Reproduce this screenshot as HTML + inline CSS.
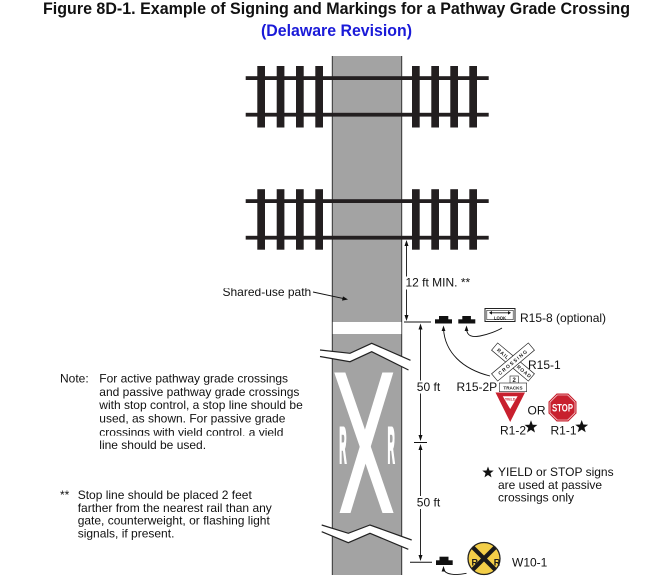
<!DOCTYPE html>
<html><head><meta charset="utf-8"><style>
html,body{margin:0;padding:0;background:#fff;}
svg{display:block;}
text{font-family:"Liberation Sans",Arial,sans-serif;}
</style></head><body>
<svg width="672" height="581" viewBox="0 0 672 581" xmlns="http://www.w3.org/2000/svg">
<defs>
<clipPath id="xclip"><rect x="332.5" y="372.5" width="69" height="140.5"/></clipPath>
<clipPath id="wclip"><circle cx="484" cy="558.5" r="16"/></clipPath>
<clipPath id="shclip"><rect x="200" y="288.3" width="130" height="20"/></clipPath>
<clipPath id="ncclip"><rect x="90" y="420" width="230" height="15.8"/></clipPath>
</defs>
<rect width="672" height="581" fill="#fff"/>

<!-- Title -->
<text x="43" y="14" font-size="17" font-weight="bold" fill="#111" textLength="587" lengthAdjust="spacingAndGlyphs">Figure 8D-1.  Example of Signing and Markings for a Pathway Grade Crossing</text>
<text x="261" y="36" font-size="16.5" font-weight="bold" fill="#1a1ad8" textLength="151" lengthAdjust="spacingAndGlyphs">(Delaware Revision)</text>

<!-- Path -->
<rect x="332" y="56" width="70" height="519" fill="#a3a3a3"/>
<line x1="332.3" y1="56" x2="332.3" y2="575" stroke="#333" stroke-width="1"/>
<line x1="401.7" y1="56" x2="401.7" y2="575" stroke="#333" stroke-width="1"/>

<!-- Tracks -->
<g fill="#231f20">
<rect x="245.7" y="76.2" width="243" height="3.8"/>
<rect x="245.7" y="112.8" width="243" height="3.8"/>
<rect x="245.7" y="199.2" width="243" height="3.8"/>
<rect x="245.7" y="235.8" width="243" height="3.8"/>
<g>
<rect x="257.3" y="66" width="7.7" height="61.5"/>
<rect x="276.7" y="66" width="7.7" height="61.5"/>
<rect x="296" y="66" width="7.7" height="61.5"/>
<rect x="315.3" y="66" width="7.7" height="61.5"/>
<rect x="412" y="66" width="7.7" height="61.5"/>
<rect x="431.3" y="66" width="7.7" height="61.5"/>
<rect x="450.3" y="66" width="7.7" height="61.5"/>
<rect x="469.3" y="66" width="7.7" height="61.5"/>
</g>
<g>
<rect x="257.3" y="189.2" width="7.7" height="60.5"/>
<rect x="276.7" y="189.2" width="7.7" height="60.5"/>
<rect x="296" y="189.2" width="7.7" height="60.5"/>
<rect x="315.3" y="189.2" width="7.7" height="60.5"/>
<rect x="412" y="189.2" width="7.7" height="60.5"/>
<rect x="431.3" y="189.2" width="7.7" height="60.5"/>
<rect x="450.3" y="189.2" width="7.7" height="60.5"/>
<rect x="469.3" y="189.2" width="7.7" height="60.5"/>
</g>
</g>

<!-- Stop line -->
<rect x="332.8" y="322" width="68.5" height="12" fill="#fff"/>

<!-- X marking -->
<g clip-path="url(#xclip)" stroke="#fff" stroke-width="10.5">
<line x1="337.9" y1="367" x2="390.1" y2="519"/>
<line x1="389.8" y1="366" x2="343.2" y2="519"/>
</g>
<text transform="translate(339.3,463) scale(1,5)" font-size="10.2" font-weight="bold" fill="#fff" stroke="#fff" stroke-width="0.5">R</text>
<text transform="translate(387.5,463) scale(1,5)" font-size="10.2" font-weight="bold" fill="#fff" stroke="#fff" stroke-width="0.5">R</text>

<!-- Break bands -->
<polygon points="320,350 350,353.3 371.7,343.3 410.5,360.3 408.5,370 371.7,351.7 350,361.7 320,356.5" fill="#fff"/>
<polyline points="320,350 350,353.3 371.7,343.3 410.5,360.3" fill="none" stroke="#222" stroke-width="1.2"/>
<polyline points="320,356.5 350,361.7 371.7,351.7 408.5,370" fill="none" stroke="#222" stroke-width="1.2"/>
<polygon points="321.7,525 348.3,533.3 370,525 411.7,540 408.3,549.3 370,533.3 348.3,542.7 321.7,531.7" fill="#fff"/>
<polyline points="321.7,525 348.3,533.3 370,525 411.7,540" fill="none" stroke="#222" stroke-width="1.2"/>
<polyline points="321.7,531.7 348.3,542.7 370,533.3 408.3,549.3" fill="none" stroke="#222" stroke-width="1.2"/>

<!-- Shared-use path label -->
<text x="222.5" y="296" font-size="12" fill="#111" clip-path="url(#shclip)">Shared-use path</text>
<line x1="313" y1="292" x2="343" y2="298.4" stroke="#111" stroke-width="0.9"/>
<polygon points="348,299.5 342,300.6 343,296.4" fill="#111"/>

<!-- 12 ft dimension -->
<line x1="406.5" y1="242" x2="406.5" y2="319" stroke="#111" stroke-width="0.9"/>
<polygon points="406.5,240 404.5,246 408.5,246" fill="#111"/>
<polygon points="406.5,321 404.5,315 408.5,315" fill="#111"/>
<line x1="404" y1="322" x2="431" y2="322" stroke="#111" stroke-width="1"/>
<rect x="404.5" y="276.5" width="66" height="13" fill="#fff"/>
<text x="405.5" y="286.5" font-size="12" fill="#111">12 ft MIN. **</text>

<!-- 50 ft dimensions -->
<line x1="420.5" y1="325" x2="420.5" y2="439" stroke="#111" stroke-width="0.9"/>
<polygon points="420.5,323.5 418.5,329.5 422.5,329.5" fill="#111"/>
<polygon points="420.5,441 418.5,435 422.5,435" fill="#111"/>
<line x1="414" y1="442.5" x2="427" y2="442.5" stroke="#111" stroke-width="1"/>
<line x1="420.5" y1="446" x2="420.5" y2="559" stroke="#111" stroke-width="0.9"/>
<polygon points="420.5,444 418.5,450 422.5,450" fill="#111"/>
<polygon points="420.5,561 418.5,555 422.5,555" fill="#111"/>
<line x1="410" y1="562.3" x2="432" y2="562.3" stroke="#111" stroke-width="1"/>
<rect x="416" y="380.5" width="25" height="13" fill="#fff"/>
<text x="416.8" y="391" font-size="12" fill="#111">50 ft</text>
<rect x="416" y="496" width="25" height="13" fill="#fff"/>
<text x="416.8" y="506.5" font-size="12" fill="#111">50 ft</text>

<!-- Sign posts -->
<g fill="#111">
<rect x="435" y="319.3" width="17" height="4.2"/><rect x="439" y="316" width="9.3" height="4"/>
<rect x="458.3" y="319.3" width="17" height="4.2"/><rect x="462.3" y="316" width="8.6" height="4"/>
<rect x="436" y="560.3" width="16.7" height="4.7"/><rect x="439.5" y="556.7" width="9" height="4"/>
</g>

<!-- Leaders -->
<path d="M466.5,329 C467,336 472,337.5 480,336 S497,331 502,328" fill="none" stroke="#111" stroke-width="0.9"/>
<polygon points="466.5,325.5 464.6,331 468.4,331" fill="#111"/>
<path d="M443.5,329 C445,352 462,369 490,376" fill="none" stroke="#111" stroke-width="0.9"/>
<polygon points="443.5,325.5 441.6,331 445.4,331" fill="#111"/>
<path d="M466.5,573.3 C456,575.5 445,575 443.5,569" fill="none" stroke="#111" stroke-width="0.9"/>
<polygon points="443.5,566 441.6,571.5 445.4,571.5" fill="#111"/>

<!-- R15-8 LOOK -->
<rect x="485" y="308.5" width="30" height="13" fill="#fff" stroke="#222" stroke-width="1"/>
<rect x="486.8" y="310.3" width="26.4" height="9.4" fill="none" stroke="#222" stroke-width="0.6"/>
<line x1="491" y1="312.8" x2="509" y2="312.8" stroke="#111" stroke-width="0.9"/>
<polygon points="489,312.8 492,311 492,314.6" fill="#111"/>
<polygon points="511,312.8 508,311 508,314.6" fill="#111"/>
<text x="500" y="319.3" font-size="4.2" font-weight="bold" text-anchor="middle" fill="#111">LOOK</text>
<text x="520" y="322" font-size="12" fill="#111">R15-8 (optional)</text>

<!-- Crossbuck R15-1 -->
<g transform="translate(513,362)">
<g transform="rotate(40)">
<rect x="-24" y="-4.75" width="48" height="9.5" fill="#fff" stroke="#222" stroke-width="0.7"/>
<text x="-5.5" y="1.9" font-size="5" font-weight="bold" text-anchor="end" letter-spacing="0.7" fill="#222">RAIL</text>
<text x="6" y="1.9" font-size="5" font-weight="bold" letter-spacing="0.7" fill="#222">ROAD</text>
</g>
<g transform="rotate(-40)">
<rect x="-24" y="-4.75" width="48" height="9.5" fill="#fff" stroke="#222" stroke-width="0.7"/>
<text x="0" y="1.9" font-size="5" font-weight="bold" text-anchor="middle" letter-spacing="1.3" fill="#222">CROSSING</text>
</g>
</g>
<text x="528" y="369" font-size="12" fill="#111">R15-1</text>

<!-- R15-2P -->
<rect x="510" y="376" width="8.3" height="7" fill="#fff" stroke="#222" stroke-width="0.6"/>
<text x="514.2" y="382" font-size="6" font-weight="bold" text-anchor="middle" fill="#222">2</text>
<rect x="499.3" y="383" width="27.4" height="8.6" fill="#fff" stroke="#222" stroke-width="0.6"/>
<text x="513" y="389.3" font-size="4.6" font-weight="bold" text-anchor="middle" fill="#222">TRACKS</text>
<text x="456.5" y="391" font-size="12" fill="#111">R15-2P</text>

<!-- Yield -->
<polygon points="495.5,392.5 525,392.5 510.2,422" fill="#c8202e"/>
<polygon points="502.8,396.3 517.6,396.3 510.2,409" fill="#fff"/>
<text x="510.2" y="400.6" font-size="3.6" font-weight="bold" text-anchor="middle" fill="#c8202e">YIELD</text>
<text x="527.5" y="414.5" font-size="12" fill="#111">OR</text>

<!-- Stop -->
<polygon points="556.7,393.5 568.3,393.5 576.5,401.7 576.5,413.3 568.3,421.5 556.7,421.5 548.5,413.3 548.5,401.7" fill="#c8202e"/>
<polygon points="557.3,395 567.7,395 575,402.3 575,412.7 567.7,420 557.3,420 550,412.7 550,402.3" fill="none" stroke="#fff" stroke-width="0.6"/>
<text x="562.5" y="411.5" font-size="11" font-weight="bold" text-anchor="middle" fill="#fff" textLength="21" lengthAdjust="spacingAndGlyphs">STOP</text>

<text x="500" y="434.5" font-size="12" fill="#111">R1-2</text>
<text x="550.5" y="434.5" font-size="12" fill="#111">R1-1</text>
<g fill="#111">
<polygon transform="translate(531,427) scale(1.35)" points="0,-5 1.234,-1.699 4.755,-1.545 1.997,0.649 2.939,4.045 0,2.1 -2.939,4.045 -1.997,0.649 -4.755,-1.545 -1.234,-1.699"/>
<polygon transform="translate(581.7,426.8) scale(1.35)" points="0,-5 1.234,-1.699 4.755,-1.545 1.997,0.649 2.939,4.045 0,2.1 -2.939,4.045 -1.997,0.649 -4.755,-1.545 -1.234,-1.699"/>
<polygon transform="translate(488,472.5) scale(1.2)" points="0,-5 1.234,-1.699 4.755,-1.545 1.997,0.649 2.939,4.045 0,2.1 -2.939,4.045 -1.997,0.649 -4.755,-1.545 -1.234,-1.699"/>
</g>

<!-- Yield/Stop note -->
<text font-size="12" fill="#111">
<tspan x="498" y="476">YIELD or STOP signs</tspan>
<tspan x="498" y="489">are used at passive</tspan>
<tspan x="498" y="501.5">crossings only</tspan>
</text>

<!-- W10-1 -->
<circle cx="484" cy="558.5" r="16" fill="#f3ce48"/>
<g clip-path="url(#wclip)" stroke="#1a1a1a" stroke-width="4.2">
<line x1="470" y1="544.5" x2="498" y2="572.5"/>
<line x1="498" y1="544.5" x2="470" y2="572.5"/>
</g>
<circle cx="484" cy="558.5" r="16" fill="none" stroke="#222" stroke-width="1.3"/>
<text x="471.5" y="565.5" font-size="9" font-weight="bold" fill="#1a1a1a">R</text>
<text x="493.8" y="565.5" font-size="9" font-weight="bold" fill="#1a1a1a">R</text>
<text x="512" y="566.5" font-size="12" fill="#111">W10-1</text>

<!-- Notes -->
<text font-size="12" fill="#111">
<tspan x="60" y="382.5">Note:</tspan>
<tspan x="99.3" y="382.5">For active pathway grade crossings</tspan>
<tspan x="99.3" y="395.8">and passive pathway grade crossings</tspan>
<tspan x="99.3" y="409.1">with stop control, a stop line should be</tspan>
<tspan x="99.3" y="422.4">used, as shown.  For passive grade</tspan>
<tspan x="99.3" y="449">line should be used.</tspan>
</text>
<text x="99.3" y="436.4" font-size="12" fill="#111" clip-path="url(#ncclip)">crossings with yield control, a yield</text>

<text font-size="12" fill="#111">
<tspan x="60" y="499">**</tspan>
<tspan x="77.7" y="499">Stop line should be placed 2 feet</tspan>
<tspan x="77.7" y="511.8">farther from the nearest rail than any</tspan>
<tspan x="77.7" y="524.6">gate, counterweight, or flashing light</tspan>
<tspan x="77.7" y="537.4">signals, if present.</tspan>
</text>
</svg>
</body></html>
